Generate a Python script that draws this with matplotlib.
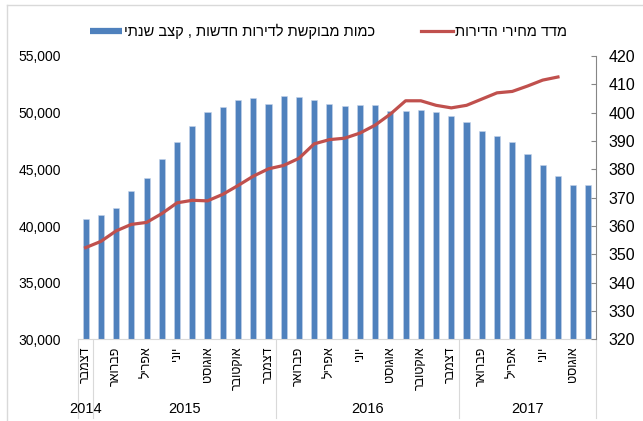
import matplotlib
matplotlib.use('Agg')
import matplotlib.pyplot as plt
import matplotlib.transforms as mtransforms
from matplotlib.lines import Line2D

plt.rcParams['font.family'] = ['Liberation Sans', 'DejaVu Sans']


def heb(s):
    # matplotlib has no bidi support, flip Hebrew to visual order
    return s[::-1]


month_names = ['ינואר', 'פברואר', 'מרץ', 'אפריל', 'מאי', 'יוני',
               'יולי', 'אוגוסט', 'ספטמבר', 'אוקטובר', 'נובמבר', 'דצמבר']
years = ['2014', '2015', '2016', '2017']
months_per_year = [1, 12, 12, 9]  # Dec 2014 .. Sep 2017
months = ['דצמבר'] + month_names + month_names + month_names[:9]

# new apartments demand, annual rate (left axis)
demand = [40600, 40950, 41600, 43100, 44200, 45900, 47400, 48850, 50050, 50500,
          51100, 51300, 50800, 51500, 51400, 51100, 50800, 50600, 50650, 50650,
          50150, 50150, 50200, 50050, 49750, 49200, 48350, 47950, 47400, 46400,
          45350, 44450, 43650, 43600]

# housing price index (right axis), up to Jul 2017
price_index = [352.4, 354.6, 358.3, 360.6, 361.3, 364.4, 368.2, 369.1, 368.9, 371.2,
               374.3, 377.6, 380.2, 381.4, 383.9, 389.0, 390.5, 391.0, 392.8, 395.6,
               399.5, 404.2, 404.2, 402.6, 401.7, 402.6, 404.8, 407.0, 407.5, 409.4,
               411.5, 412.6]

label_demand = 'כמות מבוקשת לדירות חדשות , קצב שנתי'
label_price = 'מדד מחירי הדירות'

blue = '#4F81BD'
red = '#C0504D'
light = '#D9D9D9'

fig = plt.figure(figsize=(6.43, 4.21), dpi=100)
ax = fig.add_axes([0.1213, 0.1936, 0.8057, 0.6734])
ax2 = ax.twinx()

x = list(range(len(demand)))
ax.bar(x, demand, width=0.4, color=blue, edgecolor='#C5D4EA', linewidth=0.4)
ax2.plot(range(len(price_index)), price_index, color=red, linewidth=2.3)

ax.set_xlim(-0.5, len(demand) - 0.5)
ax.set_ylim(30000, 55000)
ax.set_yticks(range(30000, 55001, 5000))
ax.set_yticklabels([f'{v:,}' for v in range(30000, 55001, 5000)], fontsize=10)
ax.tick_params(axis='y', length=0, pad=12.5, colors='#000000')

ax2.set_ylim(320, 420)
ax2.set_yticks(range(320, 421, 10))
ax2.tick_params(axis='y', direction='in', length=3.5, color='#868686',
                labelsize=11.5, pad=9)

tick_pos = list(range(0, len(months), 2))
ax.set_xticks(tick_pos)
ax.set_xticklabels([heb(months[i]) for i in tick_pos], rotation=90, fontsize=9)
ax.tick_params(axis='x', length=0, pad=5)

for a in (ax, ax2):
    for side in ('top', 'left', 'right', 'bottom'):
        a.spines[side].set_visible(False)
ax.spines['bottom'].set_visible(True)
ax.spines['bottom'].set_color(light)
ax2.spines['right'].set_visible(True)
ax2.spines['right'].set_color('#868686')

# year groups under the month labels
trans = mtransforms.blended_transform_factory(ax.transData, ax.transAxes)
start = -0.5
for yr, n in zip(years, months_per_year):
    end = start + n
    ax.plot([start, start], [0, -0.277], color=light, linewidth=0.8,
            transform=trans, clip_on=False)
    ax.text((start + end) / 2, -0.245, yr, transform=trans, ha='center',
            va='center', fontsize=10.5)
    start = end
ax.plot([start, start], [0, -0.277], color=light, linewidth=0.8,
        transform=trans, clip_on=False)

# chart border (only top/left show in the crop)
fig.add_artist(Line2D([6.5 / 643, 6.5 / 643], [0, 1 - 5 / 421], color=light,
                      linewidth=1, transform=fig.transFigure))
fig.add_artist(Line2D([6.5 / 643, 1], [1 - 5 / 421, 1 - 5 / 421], color=light,
                      linewidth=1, transform=fig.transFigure))

handles = [Line2D([], [], color=blue, linewidth=4.5, solid_capstyle='butt'),
           Line2D([], [], color=red, linewidth=2.3)]
fig.legend(handles, [heb(label_demand), heb(label_price)], loc='center',
           bbox_to_anchor=(0.511, 0.926), ncol=2, frameon=False, fontsize=10.5,
           handlelength=2.2, handletextpad=0.15, columnspacing=3.1)

plt.savefig('out.png', dpi=100)
plt.close()
